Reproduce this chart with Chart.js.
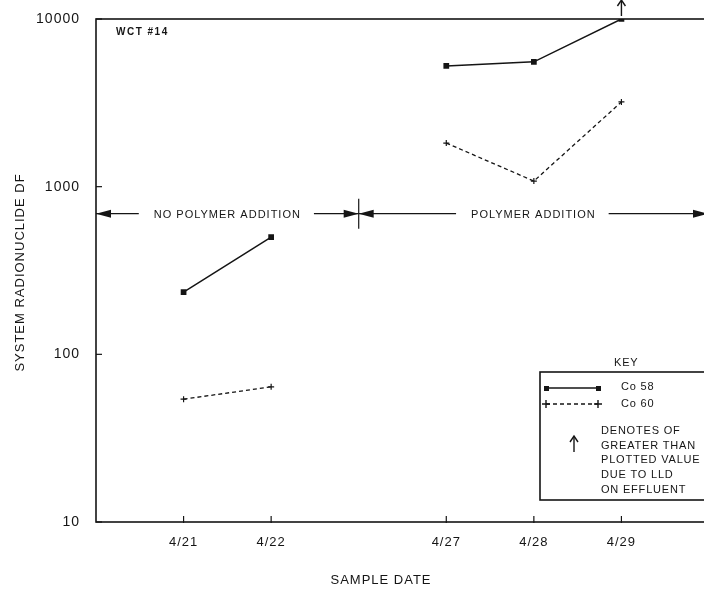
<!DOCTYPE html>
<html>
<head>
<meta charset="utf-8">
<script src="https://cdn.jsdelivr.net/npm/chart.js@4/dist/chart.umd.min.js"></script>
<style>
html,body{margin:0;padding:0;background:#fff;overflow:hidden;width:704px;height:589px;}
canvas{display:block;}
</style>
</head>
<body>
<canvas id="c" width="709" height="589"></canvas>
<script>
// ---- data ----
const categories = ['', '4/21', '4/22', '', '4/27', '4/28', '4/29', ''];
const co58 = [null, 235, 500, null, 5250, 5550, 10000, null];
const co60 = [null, 54, 64, null, 1820, 1080, 3200, null];
const yTicks = [10, 100, 1000, 10000];
const seriesNames = ['Co 58', 'Co 60'];
const xTitle = 'SAMPLE DATE';
const yTitle = 'SYSTEM RADIONUCLIDE DF';
const phaseLabels = ['NO POLYMER ADDITION', 'POLYMER ADDITION'];
const phaseLevel = 690;           // DF level at which the phase arrows sit
const phaseSplit = 3;             // category index of the phase boundary
const gtIndex = 6;                // point flagged "greater than"
const chartTitle = 'WCT #14';
const keyNote = ['DENOTES OF', 'GREATER THAN', 'PLOTTED VALUE', 'DUE TO LLD', 'ON EFFLUENT'];

const INK = '#151515';
const FONT = '"Liberation Sans", Arial, sans-serif';

function arrowHead(ctx, x, y, dir, len, half) {
  ctx.beginPath();
  ctx.moveTo(x, y);
  ctx.lineTo(x - dir * len, y - half);
  ctx.lineTo(x - dir * len, y + half);
  ctx.closePath();
  ctx.fill();
}
function noPad(s) { s.paddingTop = 0; s.paddingBottom = 0; s.paddingLeft = 0; s.paddingRight = 0; }

const spacing = {
  id: 'spacing',
  beforeDraw(chart) { chart.ctx.letterSpacing = '1px'; }
};

const decor = {
  id: 'decor',
  afterDraw(chart) {
    const ctx = chart.ctx;
    const a = chart.chartArea;
    const xs = chart.scales.x, ys = chart.scales.y;
    ctx.save();
    ctx.strokeStyle = INK; ctx.fillStyle = INK; ctx.lineWidth = 1.6;
    // frame
    ctx.strokeRect(a.left, a.top, a.right - a.left, a.bottom - a.top);
    // inside tick marks
    ctx.lineWidth = 1.2;
    yTicks.forEach(v => {
      const y = ys.getPixelForValue(v);
      ctx.beginPath(); ctx.moveTo(a.left, y); ctx.lineTo(a.left + 6, y); ctx.stroke();
    });
    categories.forEach((c, i) => {
      if (!c) return;
      const x = xs.getPixelForValue(i);
      ctx.beginPath(); ctx.moveTo(x, a.bottom + 1); ctx.lineTo(x, a.bottom - 6); ctx.stroke();
    });
    // axis titles
    ctx.letterSpacing = '1px';
    ctx.font = '13px ' + FONT;
    ctx.textBaseline = 'middle'; ctx.textAlign = 'center';
    ctx.fillText(xTitle, 381, 580);
    ctx.save();
    ctx.translate(20, (a.top + a.bottom) / 2 + 2);
    ctx.rotate(-Math.PI / 2);
    ctx.fillText(yTitle, 0, 0);
    ctx.restore();
    // title text
    ctx.letterSpacing = '1.5px';
    ctx.font = 'bold 10px ' + FONT;
    ctx.textAlign = 'left';
    ctx.fillText(chartTitle, a.left + 20, a.top + 13);
    // phase arrows
    const py = ys.getPixelForValue(phaseLevel);
    const xSplit = xs.getPixelForValue(phaseSplit);
    ctx.letterSpacing = '1px';
    ctx.font = '11px ' + FONT;
    ctx.textAlign = 'center';
    const seg = (x0, x1, label) => {
      const mid = (x0 + x1) / 2;
      const w = ctx.measureText(label).width;
      ctx.lineWidth = 1.2;
      ctx.beginPath(); ctx.moveTo(x0, py); ctx.lineTo(mid - w / 2 - 15, py); ctx.stroke();
      ctx.beginPath(); ctx.moveTo(mid + w / 2 + 13, py); ctx.lineTo(x1, py); ctx.stroke();
      arrowHead(ctx, x0, py, -1, 15, 4);
      arrowHead(ctx, x1, py, 1, 15, 4);
      ctx.fillText(label, mid, py + 1);
    };
    seg(a.left, xSplit, phaseLabels[0]);
    seg(xSplit, xs.getPixelForValue(categories.length - 1) - 1, phaseLabels[1]);
    ctx.beginPath(); ctx.moveTo(xSplit, py - 15); ctx.lineTo(xSplit, py + 15); ctx.stroke();
    // greater-than arrow
    const gx = xs.getPixelForValue(gtIndex), gy = ys.getPixelForValue(co58[gtIndex]);
    ctx.lineWidth = 1.4;
    ctx.beginPath(); ctx.moveTo(gx, gy - 3); ctx.lineTo(gx, gy - 18); ctx.stroke();
    ctx.beginPath(); ctx.moveTo(gx - 4, gy - 13); ctx.lineTo(gx, gy - 19); ctx.lineTo(gx + 4, gy - 13); ctx.stroke();
    // key box
    const kx = 540, ky = 372, kw = 200, kh = 128;
    ctx.lineWidth = 1.6;
    ctx.strokeRect(kx, ky, kw, kh);
    ctx.font = '11px ' + FONT;
    ctx.letterSpacing = '0.8px';
    ctx.textAlign = 'left';
    ctx.fillText('KEY', 614, 363);
    // Co 58 sample
    ctx.lineWidth = 1.4;
    ctx.beginPath(); ctx.moveTo(546, 388); ctx.lineTo(598, 388); ctx.stroke();
    ctx.fillRect(544, 386, 5, 5); ctx.fillRect(596, 386, 5, 5);
    ctx.fillText(seriesNames[0], 621, 387);
    // Co 60 sample
    ctx.setLineDash([4, 3]);
    ctx.beginPath(); ctx.moveTo(546, 404); ctx.lineTo(598, 404); ctx.stroke();
    ctx.setLineDash([]);
    [546, 598].forEach(x => { ctx.beginPath(); ctx.moveTo(x - 4, 404); ctx.lineTo(x + 4, 404); ctx.moveTo(x, 400); ctx.lineTo(x, 408); ctx.stroke(); });
    ctx.fillText(seriesNames[1], 621, 404);
    // up arrow in key
    ctx.beginPath(); ctx.moveTo(574, 452); ctx.lineTo(574, 437); ctx.stroke();
    ctx.beginPath(); ctx.moveTo(570, 442); ctx.lineTo(574, 436); ctx.lineTo(578, 442); ctx.stroke();
    keyNote.forEach((t, i) => ctx.fillText(t, 601, 431 + i * 14.7));
    ctx.restore();
  }
};

new Chart(document.getElementById('c'), {
  type: 'line',
  data: {
    labels: categories,
    datasets: [
      { label: seriesNames[0], data: co58, borderColor: INK, backgroundColor: INK, borderWidth: 1.5,
        pointStyle: 'rect', pointRadius: 3, spanGaps: false, tension: 0 },
      { label: seriesNames[1], data: co60, borderColor: INK, backgroundColor: INK, borderWidth: 1.3,
        borderDash: [4, 3], pointStyle: 'cross', pointRadius: 3, pointBorderWidth: 1.2, spanGaps: false, tension: 0 }
    ]
  },
  options: {
    responsive: false, animation: false, devicePixelRatio: 1,
    layout: { autoPadding: false, padding: { top: 19, right: 0, left: 0, bottom: 0 } },
    plugins: { legend: { display: false }, tooltip: { enabled: false } },
    scales: {
      x: {
        type: 'category', offset: false,
        grid: { display: false, drawTicks: false },
        border: { display: false },
        ticks: { color: INK, font: { family: FONT, size: 13 }, padding: 13, autoSkip: false, maxRotation: 0 },
        afterFit(s) { s.height = 67; noPad(s); }
      },
      y: {
        type: 'logarithmic', min: 10, max: 10000,
        grid: { display: false, drawTicks: false },
        border: { display: false },
        afterBuildTicks(s) { s.ticks = yTicks.map(v => ({ value: v })); },
        ticks: { color: INK, font: { family: FONT, size: 14 }, padding: 16, callback: v => String(v) },
        afterFit(s) { s.width = 96; noPad(s); }
      }
    }
  },
  plugins: [spacing, decor]
});
</script>
</body>
</html>
